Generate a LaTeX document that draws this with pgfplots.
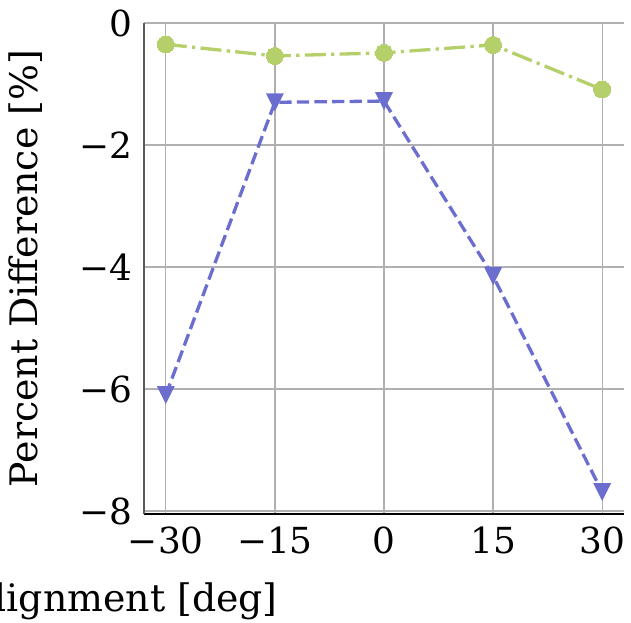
\documentclass[border=0pt]{standalone}
\usepackage{fontspec}
\setmainfont{DejaVu Serif}
\usepackage{pgfplots}
\pgfplotsset{compat=1.18}
\definecolor{cgreen}{HTML}{B5CF6B}
\definecolor{cblue}{HTML}{6B6ECF}
\definecolor{cgrid}{HTML}{B0B0B0}
\pgfdeclareplotmark{tridown}{%
  \pgfpathmoveto{\pgfqpoint{0pt}{-\pgfplotmarksize}}%
  \pgfpathlineto{\pgfqpoint{-\pgfplotmarksize}{\pgfplotmarksize}}%
  \pgfpathlineto{\pgfqpoint{\pgfplotmarksize}{\pgfplotmarksize}}%
  \pgfpathclose\pgfusepathqfill}
\begin{document}
\begin{tikzpicture}
\begin{axis}[
  at={(0,0)}, anchor=south west,
  scale only axis, width=480bp, height=491bp,
  xmin=-33, xmax=33, ymin=-8.05, ymax=0,
  axis x line*=bottom, axis y line*=left,
  x axis line style={black, line width=1.3bp, -},
  y axis line style={black!65, line width=1.3bp, -},
  xtick={-30,-15,0,15,30},
  xticklabels={−30,−15,0,15,30},
  ytick={-8,-6,-4,-2,0},
  yticklabels={−8,−6,−4,−2,0},
  major tick length=0pt,
  tick label style={font=\fontsize{36}{43}\selectfont},
  xticklabel style={yshift=-9bp},
  yticklabel style={xshift=-8bp},
  grid=major,
  major grid style={cgrid, line width=1.3bp},
  xlabel={Misalignment [deg]},
  ylabel={Percent Difference [\%]},
  label style={font=\fontsize{38}{45}\selectfont},
  xlabel style={at={(axis description cs:0.27917,-0.19756)}, anchor=base east, inner sep=0pt},
  ylabel style={at={(axis description cs:-0.2229,0.5)}, anchor=base, inner sep=0pt},
  clip=false,
]
\addplot[cgreen, line width=3.3bp, dash pattern=on 21bp off 5.3bp on 3.3bp off 5.3bp,
  mark=*, mark size=8.5bp, mark options={solid, fill=cgreen, draw=cgreen, line width=0pt}]
  coordinates {(-30,-0.35) (-15,-0.54) (0,-0.49) (15,-0.36) (30,-1.09)};
\addplot[cblue, line width=3.3bp, dash pattern=on 12.3bp off 5.3bp,
  mark=tridown, mark size=9bp, mark options={solid, fill=cblue, draw=cblue, line width=0pt}]
  coordinates {(-30,-6.10) (-15,-1.30) (0,-1.28) (15,-4.15) (30,-7.69)};
\end{axis}
\pgfresetboundingbox
\useasboundingbox (-144bp,-109bp) rectangle (487bp,514bp);
\end{tikzpicture}
\end{document}
